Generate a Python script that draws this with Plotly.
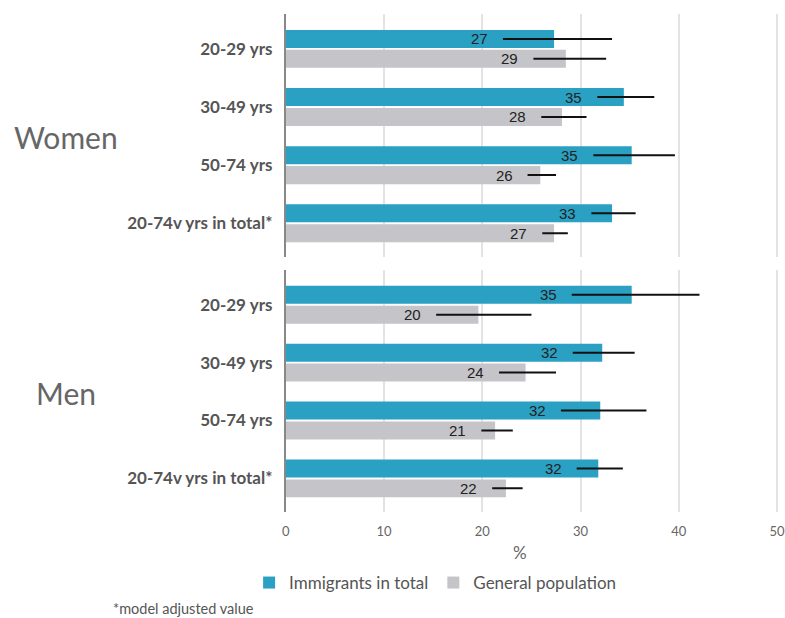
import plotly.graph_objects as go

categories = ["20-29 yrs", "30-49 yrs", "50-74 yrs", "20-74v yrs in total*"]
groups = ["Women", "Men"]
series = ["Immigrants in total", "General population"]

women_imm = [27.3, 34.4, 35.2, 33.2]
women_imm_lo = [22.1, 31.7, 31.3, 31.1]
women_imm_hi = [33.2, 37.5, 39.6, 35.6]
women_gen = [28.5, 28.1, 25.9, 27.3]
women_gen_lo = [25.2, 26.0, 24.6, 26.1]
women_gen_hi = [32.6, 30.6, 27.5, 28.7]

men_imm = [35.2, 32.2, 32.0, 31.8]
men_imm_lo = [29.1, 29.2, 28.0, 29.6]
men_imm_hi = [42.1, 35.5, 36.7, 34.3]
men_gen = [19.6, 24.4, 21.3, 22.4]
men_gen_lo = [15.3, 21.7, 19.9, 21.0]
men_gen_hi = [25.0, 27.5, 23.1, 24.1]

imm_labels_w = ["27", "35", "35", "33"]
gen_labels_w = ["29", "28", "26", "27"]
imm_labels_m = ["35", "32", "32", "32"]
gen_labels_m = ["20", "24", "21", "22"]

BLUE = "#2aa0c2"
GRAY = "#c5c4c8"
FONT = "Lato"

W, H = 785, 618

fig = go.Figure()

data = [
    ("Women", "x", "y", [(women_imm, women_imm_lo, women_imm_hi, imm_labels_w, BLUE, series[0], -1),
                         (women_gen, women_gen_lo, women_gen_hi, gen_labels_w, GRAY, series[1], 1)]),
    ("Men", "x2", "y2", [(men_imm, men_imm_lo, men_imm_hi, imm_labels_m, BLUE, series[0], -1),
                         (men_gen, men_gen_lo, men_gen_hi, gen_labels_m, GRAY, series[1], 1)]),
]

OFF = 0.1715
BW = 0.31
annotations = []
for gi, (gname, xa, ya, sers) in enumerate(data):
    for vals, lo, hi, labels, color, name, sign in sers:
        ys = [i + sign * OFF for i in range(len(categories))]
        fig.add_trace(go.Bar(
            x=vals, y=ys, orientation="h", width=BW,
            marker=dict(color=color, line=dict(width=0)),
            name=name, legendgroup=name, showlegend=(gi == 0),
            xaxis=xa, yaxis=ya,
            error_x=dict(type="data", symmetric=False,
                         array=[h - v for h, v in zip(hi, vals)],
                         arrayminus=[v - l for v, l in zip(vals, lo)],
                         width=0, thickness=2, color="#111111"),
            hoverinfo="skip",
        ))
        for yv, l, t in zip(ys, lo, labels):
            annotations.append(dict(
                x=l, y=yv, xref=xa, yref=ya, text=t, showarrow=False,
                xanchor="right", yanchor="middle", xshift=-13,
                font=dict(family="Liberation Sans, Arial", size=15, color="#222222"),
            ))

xdom = [284 / W, 1.0]
ydom_w = [1 - 257 / H, 1 - 14 / H]
ydom_m = [1 - 512 / H, 1 - 270 / H]

yaxis_common = dict(
    tickmode="array", tickvals=list(range(len(categories))), ticktext=categories,
    range=[3.58, -0.6], showgrid=False, zeroline=False,
    showline=True, linecolor="#888888", linewidth=2,
    ticks="", ticklabelstandoff=8,
    tickfont=dict(family=FONT, size=17, color="#555555", weight="bold"),
)
xaxis_common = dict(range=[0, 50.6], domain=xdom, showgrid=True, gridcolor="#e3e3e3",
                    gridwidth=1.5, zeroline=False, showline=False,
                    tickvals=[0, 10, 20, 30, 40, 50])

fig.update_layout(
    width=W, height=H,
    margin=dict(l=0, r=0, t=0, b=0),
    plot_bgcolor="white", paper_bgcolor="white",
    barmode="overlay",
    showlegend=True,
    legend=dict(orientation="h", x=247 / W, xanchor="left", y=1 - 583 / H, yanchor="middle",
                font=dict(family=FONT, size=17, color="#555555"), traceorder="normal",
                itemclick=False),
    xaxis=dict(**xaxis_common, anchor="y", showticklabels=False),
    yaxis=dict(**yaxis_common, domain=ydom_w, anchor="x"),
    xaxis2=dict(**xaxis_common, anchor="y2", showticklabels=True, ticklabelstandoff=10,
                ticklabeloverflow="allow",
                tickfont=dict(family=FONT, size=13, color="#666666")),
    yaxis2=dict(**yaxis_common, domain=ydom_m, anchor="x2"),
)

annotations += [
    dict(x=62 / W, y=1 - 137 / H, xref="paper", yref="paper", text=groups[0], showarrow=False,
         xanchor="center", yanchor="middle", font=dict(family=FONT, size=30, color="#666666")),
    dict(x=62 / W, y=1 - 393 / H, xref="paper", yref="paper", text=groups[1], showarrow=False,
         xanchor="center", yanchor="middle", font=dict(family=FONT, size=30, color="#666666")),
    dict(x=519.5 / W, y=1 - 552.7 / H, xref="paper", yref="paper", text="%", showarrow=False,
         xanchor="center", yanchor="middle", font=dict(family=FONT, size=17, color="#666666")),
    dict(x=108 / W, y=1 - 608 / H, xref="paper", yref="paper", text="*model adjusted value",
         showarrow=False, xanchor="left", yanchor="middle",
         font=dict(family=FONT, size=14.5, color="#555555")),
]
fig.update_layout(annotations=annotations)

fig.write_html("out.html")
